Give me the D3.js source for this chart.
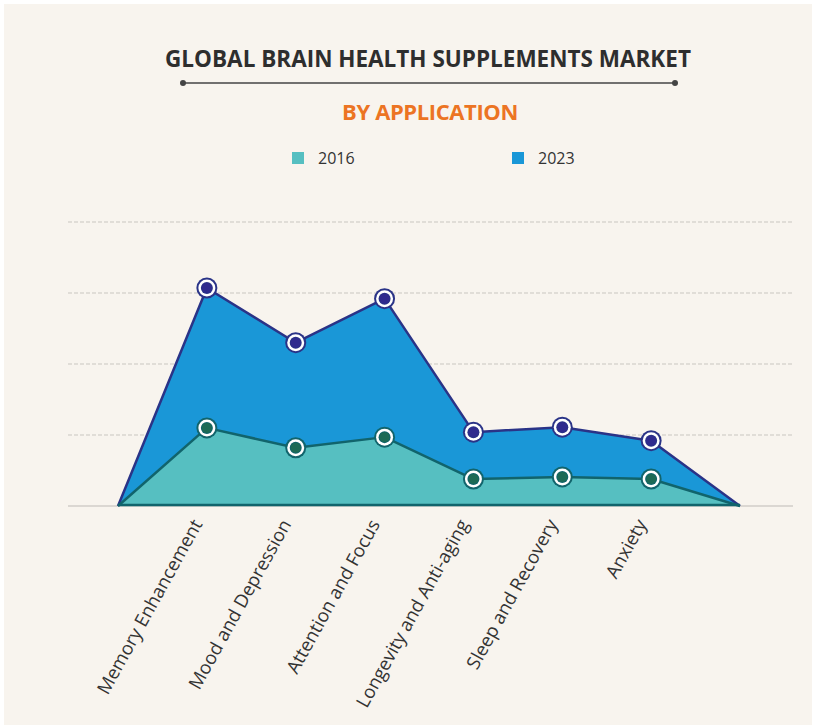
<!DOCTYPE html>
<html>
<head>
<meta charset="utf-8">
<script src="https://cdn.jsdelivr.net/npm/d3@7"></script>
<style>
  body { margin: 0; background: #fff; }
  svg { display: block; }
</style>
</head>
<body>
<svg id="chart" width="817" height="725"></svg>
<script>
// categories along the x axis (blank ends are the zero anchors)
var categories = ["", "Memory Enhancement", "Mood and Depression", "Attention and Focus",
    "Longevity and Anti-aging", "Sleep and Recovery", "Anxiety", " "];
var values2016 = [0, 1.10, 0.82, 0.97, 0.38, 0.41, 0.38, 0];
var values2023 = [0, 3.07, 2.30, 2.92, 1.04, 1.11, 0.92, 0];
var gridTicks = [0, 1, 2, 3, 4];
var seriesNames = ["2016", "2023"];

var svg = d3.select("#chart");

// page background with thin white frame
svg.append("rect").attr("x", 0).attr("y", 0).attr("width", 817).attr("height", 725).attr("fill", "#ffffff");
svg.append("rect").attr("x", 4).attr("y", 4).attr("width", 808).attr("height", 721).attr("fill", "#f8f4ee");

// title
svg.append("text")
    .attr("x", 428).attr("y", 67)
    .attr("text-anchor", "middle")
    .style("font-family", "'Open Sans', sans-serif")
    .style("font-weight", 700)
    .style("font-size", "22.5px")
    .attr("fill", "#2e2e2e")
    .text("GLOBAL BRAIN HEALTH SUPPLEMENTS MARKET");

svg.append("line")
    .attr("x1", 183).attr("x2", 675).attr("y1", 83).attr("y2", 83)
    .attr("stroke", "#444").attr("stroke-width", 1.5);
svg.selectAll(".tdot").data([183, 675]).enter().append("circle")
    .attr("cx", function (d) { return d; }).attr("cy", 83).attr("r", 3)
    .attr("fill", "#444");

svg.append("text")
    .attr("x", 430).attr("y", 120)
    .attr("text-anchor", "middle")
    .style("font-family", "'Open Sans', sans-serif")
    .style("font-weight", 700)
    .style("font-size", "22px")
    .style("letter-spacing", "-0.4px")
    .attr("fill", "#ec7423")
    .text("BY APPLICATION");

var colors = { "2016": "#56bfc1", "2023": "#1a97d7" };
var strokes = { "2016": "#11646c", "2023": "#2a3387" };
var centers = { "2016": "#1c6a55", "2023": "#2f2a8e" };

// legend
var legend = svg.selectAll(".legend").data(seriesNames).enter().append("g")
    .attr("transform", function (d, i) { return "translate(" + (292 + i * 220) + ",152)"; });
legend.append("rect").attr("width", 12).attr("height", 12)
    .attr("fill", function (d) { return colors[d]; });
legend.append("text").attr("x", 26).attr("y", 12)
    .style("font-family", "'Open Sans', sans-serif")
    .style("font-size", "16px")
    .attr("fill", "#333")
    .text(function (d) { return d; });

// scales
var x = d3.scalePoint().domain(categories).range([118, 740]);
var y = d3.scaleLinear().domain([0, 4]).range([506, 222]);

// gridlines
svg.selectAll(".grid").data(gridTicks.slice(1)).enter().append("line")
    .attr("x1", 68).attr("x2", 793)
    .attr("y1", function (d) { return y(d); }).attr("y2", function (d) { return y(d); })
    .attr("stroke", "#c9c6c0").attr("stroke-width", 1)
    .attr("stroke-dasharray", "4,2");
svg.append("line")
    .attr("x1", 68).attr("x2", 793).attr("y1", y(0)).attr("y2", y(0))
    .attr("stroke", "#bdbab5").attr("stroke-width", 1.2);

function rows(vals) {
    return categories.map(function (c, i) { return { cat: c, v: vals[i], i: i }; });
}

var area = d3.area()
    .x(function (d) { return x(d.cat); })
    .y0(y(0))
    .y1(function (d) { return y(d.v); });
var line = d3.line()
    .x(function (d) { return x(d.cat); })
    .y(function (d) { return y(d.v); });

[["2023", values2023], ["2016", values2016]].forEach(function (s) {
    var data = rows(s[1]);
    svg.append("path").datum(data)
        .attr("d", area)
        .attr("fill", colors[s[0]]);
    svg.append("path").datum(data)
        .attr("d", line)
        .attr("fill", "none")
        .attr("stroke", strokes[s[0]])
        .attr("stroke-width", 2.5)
        .attr("stroke-linejoin", "round");
});

// dark base line under the areas
svg.append("line")
    .attr("x1", x(categories[0])).attr("x2", x(categories[categories.length - 1]))
    .attr("y1", y(0) - 1).attr("y2", y(0) - 1)
    .attr("stroke", "#11646c").attr("stroke-width", 2.5);

// markers
[["2023", values2023], ["2016", values2016]].forEach(function (s) {
    var pts = rows(s[1]).filter(function (d) { return d.i > 0 && d.i < categories.length - 1; });
    var g = svg.selectAll(".m" + s[0]).data(pts).enter().append("g")
        .attr("transform", function (d) { return "translate(" + x(d.cat) + "," + y(d.v) + ")"; });
    g.append("circle").attr("r", 10.5).attr("fill", strokes[s[0]]);
    g.append("circle").attr("r", 8.5).attr("fill", "#ffffff");
    g.append("circle").attr("r", 6).attr("fill", strokes[s[0]]);
    g.append("circle").attr("r", 5).attr("fill", centers[s[0]]);
});

// category labels
svg.selectAll(".xlab").data(categories.slice(1, -1)).enter().append("text")
    .attr("transform", function (d) { return "translate(" + (x(d) - 4) + "," + 524 + ") rotate(-61)"; })
    .attr("text-anchor", "end")
    .style("font-family", "'Open Sans', sans-serif")
    .style("font-size", "18.5px")
    .attr("fill", "#333")
    .text(function (d) { return d; });
</script>
</body>
</html>
